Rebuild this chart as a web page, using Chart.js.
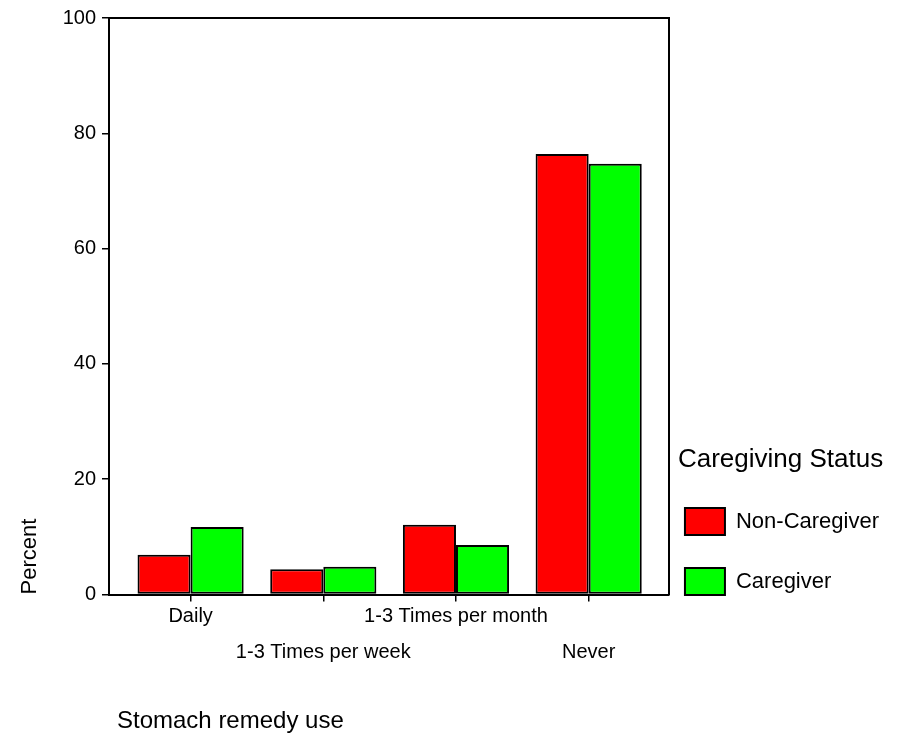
<!DOCTYPE html>
<html>
<head>
<meta charset="utf-8">
<script src="https://cdn.jsdelivr.net/npm/chart.js@4/dist/chart.umd.min.js"></script>
<style>
  body { margin: 0; background: #fff; }
  #wrap { width: 907px; height: 742px; position: relative; }
</style>
</head>
<body>
<div id="wrap"><canvas id="chart"></canvas></div>
<script>
// Chart data (percent of respondents)
const categories = ['Daily', '1-3 Times per week', '1-3 Times per month', 'Never'];
const nonCaregiver = [6.9, 4.4, 12.1, 76.4];
const caregiver = [11.7, 4.8, 8.6, 74.7];
const yTicks = [0, 20, 40, 60, 80, 100];

const FONT = "'Liberation Sans', Arial, sans-serif";

// Every second category label goes on a lower row, like the original
function tickLabel(i) {
  const text = categories[i];
  return i % 2 === 1 ? ['', text] : text;
}

// x axis title sits under the labels, near the left of the plot
const xTitle = {
  id: 'xTitle',
  afterDraw(chart) {
    const ctx = chart.ctx;
    ctx.save();
    ctx.font = '24px ' + FONT;
    ctx.fillStyle = '#000';
    ctx.textBaseline = 'alphabetic';
    ctx.textAlign = 'left';
    ctx.fillText('Stomach remedy use', chart.chartArea.left + 8, 728);
    ctx.restore();
  }
};

// let the legend title run past the legend box instead of being clipped
const legendRoom = {
  id: 'legendRoom',
  afterLayout(chart) {
    const lg = chart.legend;
    lg.right = chart.width;
    lg.width = chart.width - lg.left;
  }
};

const ctx = document.getElementById('chart').getContext('2d');

new Chart(ctx, {
  type: 'bar',
  data: {
    datasets: [{
      label: 'Non-Caregiver',
      data: nonCaregiver.map((v, i) => ({ x: i, y: v })),
      backgroundColor: '#ff0000',
      borderColor: '#000',
      borderWidth: 2,
      borderSkipped: false
    }, {
      label: 'Caregiver',
      data: caregiver.map((v, i) => ({ x: i, y: v })),
      backgroundColor: '#00ff00',
      borderColor: '#000',
      borderWidth: 2,
      borderSkipped: false
    }]
  },
  options: {
    responsive: true,
    maintainAspectRatio: false,
    animation: false,
    categoryPercentage: 0.8,
    barPercentage: 1,
    layout: { padding: { top: 18, left: 0, right: 18, bottom: 61 } },
    plugins: {
      tooltip: { enabled: false },
      legend: {
        position: 'right',
        align: 'end',
        fullSize: true,
        maxWidth: 260,
        title: {
          display: true,
          text: 'Caregiving Status',
          position: 'start',
          color: '#000',
          padding: 23,
          font: { family: FONT, size: 26 }
        },
        labels: {
          boxWidth: 40,
          boxHeight: 27,
          padding: 7,
          color: '#000',
          font: { family: FONT, size: 22, lineHeight: 53 / 22 },
          // the last item carries an empty line so the boxes end up near the axis
          generateLabels(chart) {
            return Chart.defaults.plugins.legend.labels.generateLabels(chart)
              .map((l, i) => ({ ...l, text: i === 1 ? [l.text, ''] : [l.text] }));
          }
        }
      }
    },
    scales: {
      x: {
        type: 'linear',
        offset: false,
        bounds: 'data',
        min: -0.615,
        max: 3.605,
        afterBuildTicks: s => { s.ticks = categories.map((c, i) => ({ value: i })); },
        afterFit: s => { s.height = 86.5; },
        grid: { display: true, offset: false, drawOnChartArea: false, color: '#000', lineWidth: 1.5, tickLength: 7 },
        border: { display: true, color: '#000', width: 2 },
        ticks: {
          autoSkip: false,
          maxRotation: 0,
          minRotation: 0,
          padding: -3,
          color: '#000',
          font: { family: FONT, size: 20, lineHeight: 1.8 },
          callback: v => tickLabel(v)
        }
      },
      x2: {
        type: 'linear',
        position: 'top',
        min: 0,
        max: 1,
        afterFit: s => { s.height = 0; },
        grid: { display: false },
        ticks: { display: false },
        border: { display: true, color: '#000', width: 2 }
      },
      y: {
        min: 0,
        max: 100,
        afterBuildTicks: s => { s.ticks = yTicks.map(v => ({ value: v })); },
        afterFit: s => { s.width = 109; },
        grid: { display: true, drawOnChartArea: false, color: '#000', lineWidth: 1.5, tickLength: 7 },
        border: { display: true, color: '#000', width: 2 },
        ticks: {
          padding: 6,
          color: '#000',
          font: { family: FONT, size: 20 }
        },
        title: {
          display: true,
          text: 'Percent',
          align: 'start',
          color: '#000',
          padding: { top: 17 },
          font: { family: FONT, size: 22 }
        }
      },
      y2: {
        position: 'right',
        min: 0,
        max: 1,
        afterFit: s => { s.width = 9; },
        grid: { display: false },
        ticks: { display: false },
        border: { display: true, color: '#000', width: 2 }
      }
    }
  },
  plugins: [xTitle, legendRoom]
});
</script>
</body>
</html>
